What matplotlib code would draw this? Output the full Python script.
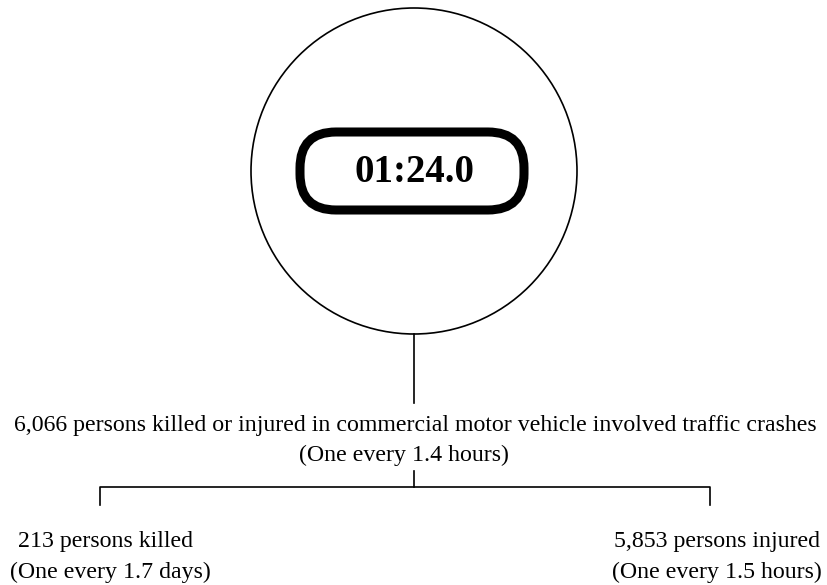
"""Commercial motor vehicle crash clock diagram."""
import matplotlib.pyplot as plt
import matplotlib.patches as patches

plt.rcParams['font.family'] = ['Liberation Serif', 'DejaVu Serif']

# Data
clock_time = "01:24.0"
total_label = "6,066 persons killed or injured in commercial motor vehicle involved traffic crashes"
total_rate = "(One every 1.4 hours)"
branch_labels = ["213 persons killed", "5,853 persons injured"]
branch_rates = ["(One every 1.7 days)", "(One every 1.5 hours)"]

W, H = 827, 585
fig = plt.figure(figsize=(W / 100, H / 100), dpi=100)
ax = fig.add_axes([0, 0, 1, 1])
ax.set_xlim(0, W)
ax.set_ylim(H, 0)
ax.axis('off')

cx, cy, r = 414, 171, 163
lw = 1.2
fs = 17.2

# Clock circle and rounded display
ax.add_patch(patches.Circle((cx, cy), r, fill=False, edgecolor='black', linewidth=lw))
box_w, box_h = 224, 78
ax.add_patch(patches.FancyBboxPatch((cx - 2 - box_w / 2, cy - box_h / 2), box_w, box_h,
                                    boxstyle="round,pad=0,rounding_size=36",
                                    fill=False, edgecolor='black', linewidth=6.5))
ax.text(cx + 1, cy + 2, clock_time, ha='center', va='center', fontsize=28, fontweight='bold')

# Connector down to the total
ax.plot([cx, cx], [cy + r, 403], color='black', linewidth=lw)
ax.text(cx + 1, 425, total_label, ha='center', va='center', fontsize=fs)
ax.text(cx - 10, 455, total_rate, ha='center', va='center', fontsize=fs)

# Bracket to the two branches
left_x, right_x, bar_y = 100, 710, 487
ax.plot([cx, cx], [471, bar_y], color='black', linewidth=lw)
ax.plot([left_x, left_x, right_x, right_x], [505, bar_y, bar_y, 505], color='black', linewidth=lw)

ax.text(18, 542, branch_labels[0], ha='left', va='center', fontsize=fs)
ax.text(10, 572, branch_rates[0], ha='left', va='center', fontsize=fs)
ax.text(820, 542, branch_labels[1], ha='right', va='center', fontsize=fs)
ax.text(822, 572, branch_rates[1], ha='right', va='center', fontsize=fs)

fig.savefig('out.png', dpi=100, facecolor='white')
